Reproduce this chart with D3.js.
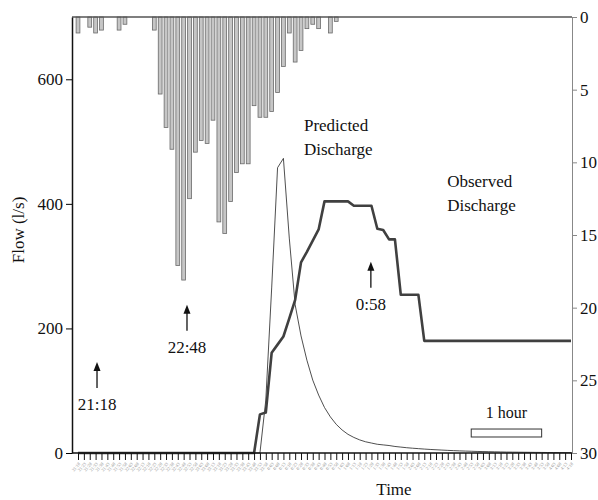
<!DOCTYPE html>
<html>
<head>
<meta charset="utf-8">
<script src="https://cdn.jsdelivr.net/npm/d3@7"></script>
<style>
  body { margin: 0; background: #fff; }
  text { font-family: "Liberation Serif", "Times New Roman", serif; fill: #111; }
</style>
</head>
<body>
<svg id="chart" width="598" height="500"></svg>
<script>
// 5-minute time slots
const times = [
  "21:18","21:23","21:28","21:33","21:38","21:43","21:48","21:53","21:58","22:03","22:08","22:13",
  "22:18","22:23","22:28","22:33","22:38","22:43","22:48","22:53","22:58","23:03","23:08","23:13",
  "23:18","23:23","23:28","23:33","23:38","23:43","23:48","23:53","23:58","0:03","0:08","0:13",
  "0:18","0:23","0:28","0:33","0:38","0:43","0:48","0:53","0:58","1:03","1:08","1:13",
  "1:18","1:23","1:28","1:33","1:38","1:43","1:48","1:53","1:58","2:03","2:08","2:13",
  "2:18","2:23","2:28","2:33","2:38","2:43","2:48","2:53","2:58","3:03","3:08","3:13",
  "3:18","3:23","3:28","3:33","3:38","3:43","3:48","3:53","3:58","4:03","4:08","4:13","4:18"
];

// rainfall (mm), first 45 slots
const rain = [1.1, 0, 0.7, 1.1, 0.9, 0, 0, 0.9, 0.5, 0, 0, 0, 0, 0.9, 5.3, 7.6, 9.1, 17.1, 18.1, 12.5,
  9.3, 8.5, 8.7, 7.1, 14.1, 14.9, 12.7, 10.7, 10.1, 10.1, 6.1, 6.9, 6.9, 6.5, 5.2, 3.4, 1.1, 3.1,
  2.3, 0.8, 0.5, 0.8, 0, 1.1, 0.3];

// observed discharge (l/s)
const observed = [0,0,0,0,0,0,0,0,0,0, 0,0,0,0,0,0,0,0,0,0, 0,0,0,0,0,0,0,0,0,0,
  0, 62, 65, 161, 174, 187, 216, 246, 306, 323, 341, 359, 404, 404, 404, 404, 404, 397, 397, 397,
  397, 360, 358, 343, 343, 254, 254, 254, 254, 180, 180, 180, 180, 180, 180, 180, 180, 180, 180, 180,
  180, 180, 180, 180, 180, 180, 180, 180, 180, 180, 180, 180, 180, 180, 180];

// predicted discharge (l/s)
const predicted = [0,0,0,0,0,0,0,0,0,0, 0,0,0,0,0,0,0,0,0,0, 0,0,0,0,0,0,0,0,0,0,
  0, 0, 85, 265, 458, 473, 345, 238, 188, 149, 117, 93, 73, 58, 46, 37, 30, 25, 21, 18,
  16, 14, 13, 12, 10.5, 9.5, 8.5, 7.7, 7, 6.3, 5.7, 5.2, 4.7, 4.2, 3.8, 3.4, 3.1, 2.8, 2.5, 2.3,
  2.1, 1.9, 1.7, 1.5, 1.4, 1.3, 1.2, 1.1, 1.0, 0.9, 0.8, 0.7, 0.6, 0.6, 0.5];

const flowTicks = [0, 200, 400, 600];
const rainTicks = [0, 5, 10, 15, 20, 25, 30];

const arrows = [
  { label: "21:18", slot: 3.24, flow: 146 },
  { label: "22:48", slot: 18.57, flow: 238 },
  { label: "0:58", slot: 49.9, flow: 307 }
];

const mLeft = 72, mRight = 572, mTop = 17, mBottom = 453;
const svg = d3.select("#chart");

const x = d3.scalePoint().domain(times).range([78, 571]);
const xi = d3.scaleLinear().domain([0, times.length - 1]).range([78, 571]);
const y = d3.scaleLinear().domain([0, 700]).range([mBottom, mTop]);
const yr = d3.scaleLinear().domain([0, 30]).range([mTop, mBottom]);

// rainfall bars hanging from the top
const rainData = rain.map((v, i) => ({ t: times[i], v: v })).filter(d => d.v > 0);
svg.append("g").selectAll("rect")
  .data(rainData)
  .enter().append("rect")
  .attr("x", d => x(d.t) - 1.9)
  .attr("y", yr(0))
  .attr("width", 3.8)
  .attr("height", d => yr(d.v) - yr(0))
  .attr("fill", "#c6c6c6")
  .attr("stroke", "#6a6a6a")
  .attr("stroke-width", 0.8);

// top border
svg.append("line")
  .attr("x1", mLeft).attr("x2", mRight).attr("y1", mTop).attr("y2", mTop)
  .attr("stroke", "#555").attr("stroke-width", 1.5);

// discharge lines
const line = d3.line().x((d, i) => x(times[i])).y(d => y(d));

svg.append("path")
  .datum(predicted)
  .attr("d", line)
  .attr("fill", "none")
  .attr("stroke", "#222")
  .attr("stroke-width", 0.8);

svg.append("path")
  .datum(observed)
  .attr("d", line)
  .attr("fill", "none")
  .attr("stroke", "#404040")
  .attr("stroke-width", 2.6)
  .attr("stroke-linejoin", "round");

// left axis
const yAxis = svg.append("g")
  .attr("transform", `translate(${mLeft},0)`)
  .call(d3.axisLeft(y).tickValues(flowTicks).tickSize(6).tickPadding(3).tickSizeOuter(0));
yAxis.select(".domain").attr("stroke", "#111").attr("stroke-width", 1.5);
yAxis.selectAll("text").style("font-size", "17px");

// right axis
const rAxis = svg.append("g")
  .attr("transform", `translate(${mRight},0)`)
  .call(d3.axisRight(yr).tickValues(rainTicks).tickSize(5).tickPadding(3).tickSizeOuter(0));
rAxis.select(".domain").attr("stroke", "#888").attr("stroke-width", 1);
rAxis.selectAll(".tick line").attr("stroke", "#888");
rAxis.selectAll("text").style("font-size", "17px");

// bottom axis
const xAxis = svg.append("g")
  .attr("transform", `translate(0,${mBottom})`)
  .call(d3.axisBottom(x).tickSize(7).tickSizeOuter(0));
xAxis.select(".domain").attr("d", `M${mLeft},0H${mRight}`).attr("stroke", "#111").attr("stroke-width", 1.5);
xAxis.selectAll(".tick line").attr("stroke", "#111").attr("stroke-width", 1);
xAxis.selectAll("text")
  .style("font-size", "4.5px")
  .style("fill", "#8c8c8c")
  .attr("text-anchor", "end")
  .attr("dy", null)
  .attr("y", 0)
  .attr("transform", "translate(2,11) rotate(-50)");

// axis titles
svg.append("text")
  .attr("transform", "translate(24,230) rotate(-90)")
  .attr("text-anchor", "middle")
  .style("font-size", "17px")
  .text("Flow (l/s)");

svg.append("text")
  .attr("x", 394).attr("y", 495)
  .attr("text-anchor", "middle")
  .style("font-size", "17px")
  .text("Time");

// labels
function twoLine(slot, flow, a, b) {
  const t = svg.append("text").attr("x", xi(slot)).attr("y", y(flow)).style("font-size", "17px");
  t.append("tspan").attr("x", xi(slot)).text(a);
  t.append("tspan").attr("x", xi(slot)).attr("dy", 24).text(b);
}
twoLine(38.5, 517, "Predicted", "Discharge");
twoLine(62.9, 427, "Observed", "Discharge");

// arrows
const ag = svg.append("g").selectAll("g").data(arrows).enter().append("g")
  .attr("transform", d => `translate(${xi(d.slot)},${y(d.flow)})`);
ag.append("line").attr("y1", 6).attr("y2", 26).attr("stroke", "#111").attr("stroke-width", 1.3);
ag.append("path").attr("d", "M0,0L-3.5,9L3.5,9Z").attr("fill", "#111");
ag.append("text").attr("y", 48).attr("text-anchor", "middle").style("font-size", "17px").text(d => d.label);

// 1 hour scale bar
svg.append("rect")
  .attr("x", xi(67)).attr("width", xi(79) - xi(67))
  .attr("y", y(38.5)).attr("height", y(25.7) - y(38.5))
  .attr("fill", "#fff").attr("stroke", "#333").attr("stroke-width", 1);
svg.append("text")
  .attr("x", (xi(67) + xi(79)) / 2).attr("y", y(56))
  .attr("text-anchor", "middle")
  .style("font-size", "16px")
  .text("1 hour");
</script>
</body>
</html>
